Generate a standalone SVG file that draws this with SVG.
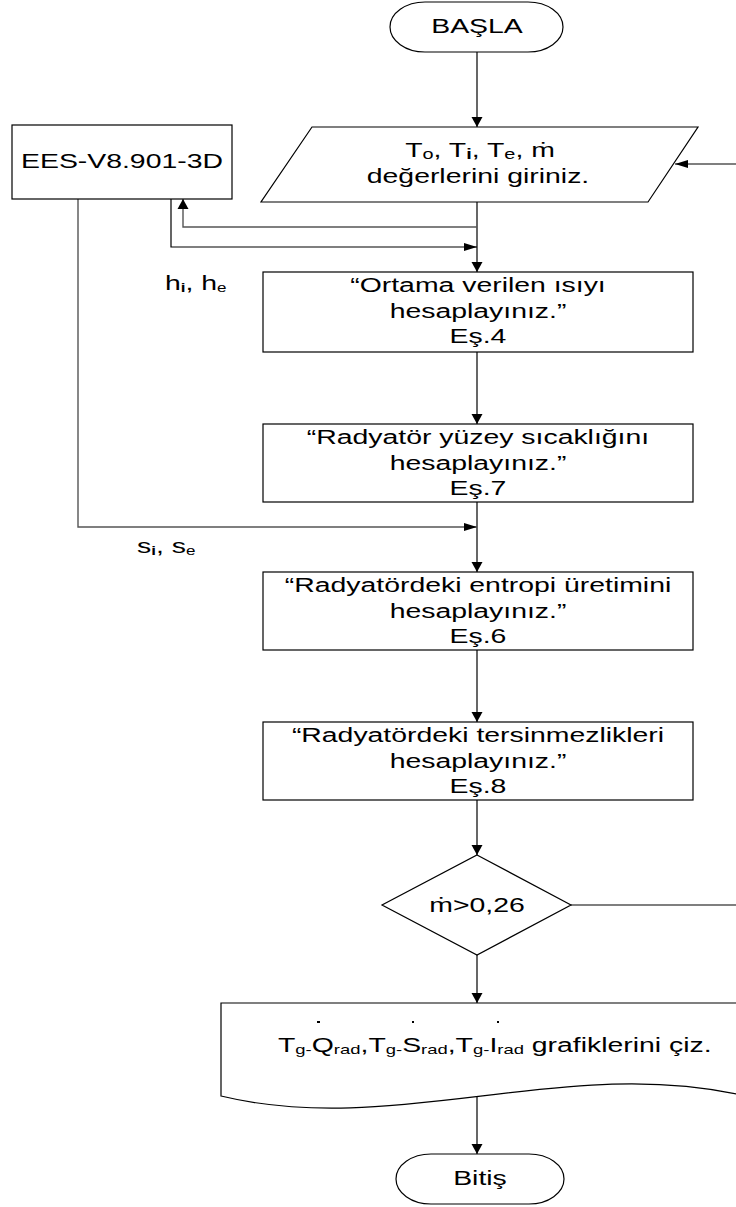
<svg xmlns="http://www.w3.org/2000/svg" width="736" height="1207" viewBox="0 0 736 1207">
<style>
.s{fill:#fff;stroke:#000;stroke-width:1.2}
.t{font-family:"Liberation Sans",Arial,sans-serif;font-size:20px;fill:#000}
.c{stroke:#000;stroke-width:1.2;fill:none}
.g{stroke:#555;stroke-width:1.4;fill:none}
</style>
<defs>
<marker id="mV" markerUnits="userSpaceOnUse" markerWidth="10" markerHeight="12" refX="10" refY="6" orient="auto"><path d="M0,0.5 L10,6 L0,11.5 z" fill="#000"/></marker>
<marker id="mH" markerUnits="userSpaceOnUse" markerWidth="13" markerHeight="9" refX="13" refY="4.5" orient="auto"><path d="M0,0.5 L13,4.5 L0,8.5 z" fill="#000"/></marker>
</defs>
<rect width="736" height="1207" fill="#fff"/>
<g id="connectors">
<path class="c" d="M477,52 V127" marker-end="url(#mV)"/>
<path class="c" d="M477,202 V272" marker-end="url(#mV)"/>
<path class="c" d="M477,352 V424" marker-end="url(#mV)"/>
<path class="c" d="M477,502 V572" marker-end="url(#mV)"/>
<path class="c" d="M477,650 V722" marker-end="url(#mV)"/>
<path class="c" d="M477,800 V855" marker-end="url(#mV)"/>
<path class="c" d="M477,955 V1003" marker-end="url(#mV)"/>
<path class="c" d="M477,1095 V1154" marker-end="url(#mV)"/>
<path class="g" d="M477,227 H183 V199" marker-end="url(#mV)"/>
<path class="c" d="M171,199 V247 H477" marker-end="url(#mH)"/>
<path class="g" d="M78,199 V527 H477" marker-end="url(#mH)"/>
<path class="c" d="M571,905 H739 V164 H675" marker-end="url(#mH)"/>
</g>
<g id="start">
<rect class="s" x="390" y="2" width="173" height="50" rx="35" ry="25"/>
<text class="t" transform="translate(477,33) scale(1.42,1)" text-anchor="middle">BAŞLA</text>
</g>
<g id="input">
<polygon class="s" points="312,127 698,127 648,202 261,202"/>
<text class="t" transform="translate(480,157) scale(1.42,1)" text-anchor="middle">T<tspan font-size="14" dy="2">o</tspan><tspan dy="-2">, T</tspan><tspan font-size="14" dy="2" font-weight="bold">i</tspan><tspan dy="-2">, T</tspan><tspan font-size="14" dy="2">e</tspan><tspan dy="-2">, ṁ</tspan></text>
<text class="t" transform="translate(478,183) scale(1.42,1)" text-anchor="middle">değerlerini giriniz.</text>
</g>
<g id="ees">
<rect class="s" x="12" y="125" width="220" height="74"/>
<text class="t" transform="translate(122,168) scale(1.42,1)" text-anchor="middle">EES-V8.901-3D</text>
</g>
<g id="label-h">
<text class="t" font-size="17" transform="translate(165,290) scale(1.42,1)">h<tspan font-size="12" dy="2" font-weight="bold">i</tspan><tspan dy="-2">, h</tspan><tspan font-size="12" dy="2">e</tspan></text>
</g>
<g id="label-s">
<text class="t" font-size="17" transform="translate(137,553) scale(1.42,1)">s<tspan font-size="12" dy="2" font-weight="bold">i</tspan><tspan dy="-2">, s</tspan><tspan font-size="12" dy="2">e</tspan></text>
</g>
<g id="box1">
<rect class="s" x="263" y="272" width="430" height="80"/>
<text class="t" transform="translate(478,292) scale(1.42,1)" text-anchor="middle">“Ortama verilen ısıyı</text>
<text class="t" transform="translate(478,318) scale(1.42,1)" text-anchor="middle">hesaplayınız.”</text>
<text class="t" transform="translate(478,343) scale(1.42,1)" text-anchor="middle">Eş.4</text>
</g>
<g id="box2">
<rect class="s" x="263" y="424" width="430" height="78"/>
<text class="t" transform="translate(478,444) scale(1.42,1)" text-anchor="middle">“Radyatör yüzey sıcaklığını</text>
<text class="t" transform="translate(478,470) scale(1.42,1)" text-anchor="middle">hesaplayınız.”</text>
<text class="t" transform="translate(478,495) scale(1.42,1)" text-anchor="middle">Eş.7</text>
</g>
<g id="box3">
<rect class="s" x="263" y="572" width="430" height="78"/>
<text class="t" transform="translate(478,592) scale(1.42,1)" text-anchor="middle">“Radyatördeki entropi üretimini</text>
<text class="t" transform="translate(478,618) scale(1.42,1)" text-anchor="middle">hesaplayınız.”</text>
<text class="t" transform="translate(478,643) scale(1.42,1)" text-anchor="middle">Eş.6</text>
</g>
<g id="box4">
<rect class="s" x="263" y="722" width="430" height="78"/>
<text class="t" transform="translate(478,742) scale(1.42,1)" text-anchor="middle">“Radyatördeki tersinmezlikleri</text>
<text class="t" transform="translate(478,768) scale(1.42,1)" text-anchor="middle">hesaplayınız.”</text>
<text class="t" transform="translate(478,793) scale(1.42,1)" text-anchor="middle">Eş.8</text>
</g>
<g id="decision">
<polygon class="s" points="477,855 571,905 477,955 382,905"/>
<text class="t" transform="translate(477,912) scale(1.42,1)" text-anchor="middle">ṁ&gt;0,26</text>
</g>
<g id="output">
<path class="s" d="M221,1003 H745 V1096 C 567,1054 394,1138 221,1096 Z"/>
<text class="t" transform="translate(278,1052) scale(1.42,1)">T<tspan font-size="13" dy="2">g-</tspan><tspan dy="-2">Q</tspan><tspan font-size="13" dy="2">rad</tspan><tspan dy="-2">,T</tspan><tspan font-size="13" dy="2">g-</tspan><tspan dy="-2">S</tspan><tspan font-size="13" dy="2">rad</tspan><tspan dy="-2">,T</tspan><tspan font-size="13" dy="2">g-</tspan><tspan dy="-2">I</tspan><tspan font-size="13" dy="2">rad</tspan><tspan dy="-2"> grafiklerini çiz.</tspan></text>
<rect x="317" y="1021" width="3" height="2" fill="#000"/>
<rect x="412" y="1021" width="2" height="2" fill="#000"/>
<rect x="497" y="1021" width="2" height="2" fill="#000"/>
</g>
<g id="end">
<rect class="s" x="396" y="1154" width="168" height="50" rx="35" ry="25"/>
<text class="t" transform="translate(480,1185) scale(1.42,1)" text-anchor="middle">Bitiş</text>
</g>
</svg>
